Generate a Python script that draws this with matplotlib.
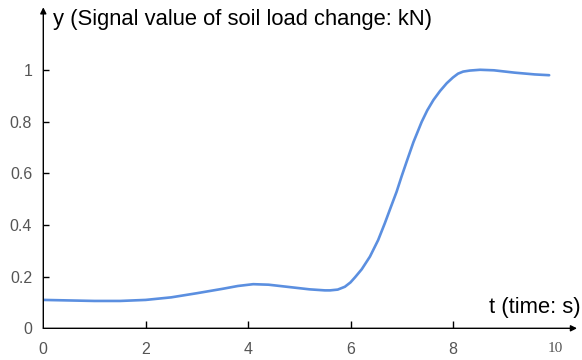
import matplotlib
matplotlib.use("Agg")
import matplotlib.pyplot as plt

# Data
t_vals = [0.0, 0.5, 1.0, 1.5, 2.0, 2.5, 3.0, 3.5, 3.8, 4.1, 4.4, 4.8, 5.2, 5.5,
          5.6, 5.75, 5.89, 6.0, 6.09, 6.22, 6.38, 6.54, 6.67, 6.79, 6.90, 7.0,
          7.10, 7.23, 7.39, 7.5, 7.62, 7.75, 7.88, 8.0, 8.1, 8.2, 8.33, 8.53,
          8.8, 9.2, 9.6, 9.88]
y_vals = [0.110, 0.108, 0.106, 0.106, 0.110, 0.120, 0.136, 0.153, 0.164, 0.171,
          0.169, 0.160, 0.151, 0.147, 0.147, 0.150, 0.161, 0.178, 0.198, 0.229,
          0.278, 0.342, 0.407, 0.471, 0.529, 0.590, 0.648, 0.722, 0.800, 0.845,
          0.885, 0.920, 0.950, 0.972, 0.987, 0.995, 0.999, 1.002, 1.000, 0.991,
          0.984, 0.981]

x_ticks = [0, 2, 4, 6, 8, 10]
x_tick_labels = ["0", "2", "4", "6", "8", "10"]
y_ticks = [0, 0.2, 0.4, 0.6, 0.8, 1.0]
y_tick_labels = ["0", "0.2", "0.4", "0.6", "0.8", "1"]
y_label = "y (Signal value of soil load change: kN)"
x_label = "t (time: s)"

W, H = 582, 360
fig = plt.figure(figsize=(W / 100, H / 100), dpi=100)

x0_px, x_unit = 43.3, 51.2
y0_px, y_unit = 328.3, 258.0
x_right_px = 577.0
y_top_px = 7.3
xmax = (x_right_px - x0_px) / x_unit
ymax = (y0_px - y_top_px) / y_unit

ax = fig.add_axes([x0_px / W, (H - y0_px) / H, (x_right_px - x0_px) / W, (y0_px - y_top_px) / H])
ax.set_xlim(0, xmax)
ax.set_ylim(0, ymax)

for s in ax.spines.values():
    s.set_visible(False)

ax.plot(t_vals, y_vals, color="#5b8fe0", lw=1.9, solid_capstyle="round",
        solid_joinstyle="round", zorder=3)

# arrows for axes
arrow_kw = dict(arrowstyle="-|>", color="black", lw=1.0, mutation_scale=9, shrinkA=0, shrinkB=0)
ax.annotate("", xy=(1, 0), xytext=(0, 0), xycoords="axes fraction",
            textcoords="axes fraction", arrowprops=arrow_kw, annotation_clip=False)
ax.annotate("", xy=(0, 1), xytext=(0, 0), xycoords="axes fraction",
            textcoords="axes fraction", arrowprops=arrow_kw, annotation_clip=False)

ax.set_xticks(x_ticks)
ax.set_xticklabels(x_tick_labels)
ax.set_yticks(y_ticks)
ax.set_yticklabels(y_tick_labels)
ax.tick_params(axis="x", direction="in", length=5, width=1.0, color="black",
               labelsize=11.5, labelcolor="#555555", pad=10)
ax.tick_params(axis="y", direction="in", length=4.5, width=1.0, color="black",
               labelsize=11.5, labelcolor="#555555", pad=8)
for lbl in ax.get_xticklabels() + ax.get_yticklabels():
    lbl.set_family("Liberation Sans")
xt = ax.xaxis.get_major_ticks()
xt[0].tick1line.set_visible(False)
xt[-1].tick1line.set_visible(False)
ax.get_xticklabels()[-1].set_family("Liberation Serif")
ax.get_xticklabels()[-1].set_fontsize(11)
yt = ax.yaxis.get_major_ticks()
yt[0].tick1line.set_visible(False)

fig.text(53 / W, 1 - 19 / H, y_label, ha="left", va="center", fontsize=15.8,
         family="Liberation Sans", color="black")
fig.text(581 / W, 1 - 307 / H, x_label, ha="right", va="center", fontsize=15.8,
         family="Liberation Sans", color="black")

fig.savefig("out.png", dpi=100)
